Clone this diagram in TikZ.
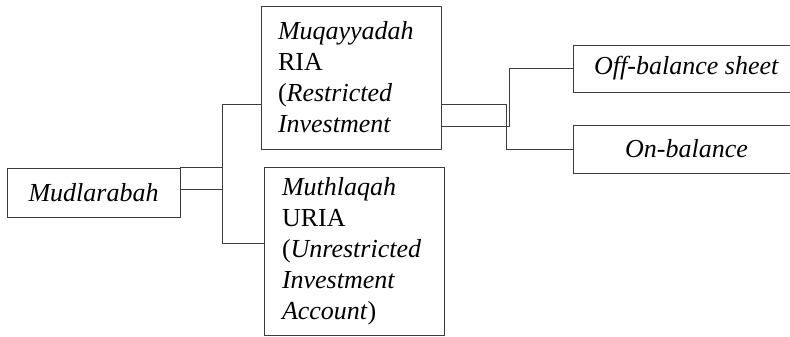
\documentclass[tikz,border=0pt]{standalone}
\usepackage{fontspec}
\setmainfont{Liberation Serif}
\usetikzlibrary{positioning}

\begin{document}
\begin{tikzpicture}[x=1pt, y=-1pt, line width=0.8pt]
% Define colors
\definecolor{linecolor}{RGB}{60, 60, 60}

\tikzset{
    boxnode/.style={draw=linecolor, inner sep=0pt, font=\fontsize{26}{31}\selectfont},
    textbox/.style={boxnode, align=left, inner ysep=0pt},
    link/.style={draw=linecolor}
}

\useasboundingbox (0,0) rectangle (790,337);
\clip (0,0) rectangle (790,337);

% Mudlarabah box
\node[boxnode, minimum width=173, minimum height=49] (mud) at (93.5,192.5) {\textit{Mudlarabah}};

% RIA and URIA boxes
\node[textbox, inner xsep=17, text width=146, minimum height=143] (ria) at (351,77.5)
    {\textit{Muqayyadah}\\ RIA\\ (\textit{Restricted}\\ \textit{Investment}};
\node[textbox, inner xsep=18, text width=144, minimum height=168] (uria) at (354,251)
    {\textit{Muthlaqah}\\ URIA\\ (\textit{Unrestricted}\\ \textit{Investment}\\ \textit{Account})};

% Balance sheet boxes
\node[boxnode, minimum width=227, minimum height=47] (offb) at (686.5,68.5) {\textit{Off-balance sheet}};
\node[boxnode, minimum width=227, minimum height=48] (onb) at (686.5,149) {\textit{On-balance}};

% Junctions
\coordinate (trunktop) at (222,104);
\coordinate (trunkbot) at (222,243);
\coordinate (onjoin) at (506,104);
\coordinate (offjoin) at (509,126);

% Left connectors
\draw[link] (mud.north east) -- (mud.north east -| trunktop);
\draw[link] ([yshift=3.5pt]mud.east) -- ([yshift=3.5pt]mud.east -| trunktop);
\draw[link] (trunktop) -- (trunkbot);
\draw[link] (trunktop) -- (trunktop -| ria.west);
\draw[link] (trunkbot) -- (trunkbot -| uria.west);

% Right connectors
\draw[link] (onjoin -| ria.east) -- (onjoin) |- (onb.west);
\draw[link] (offjoin -| ria.east) -- (offjoin) |- (offb.west);
\end{tikzpicture}
\end{document}
